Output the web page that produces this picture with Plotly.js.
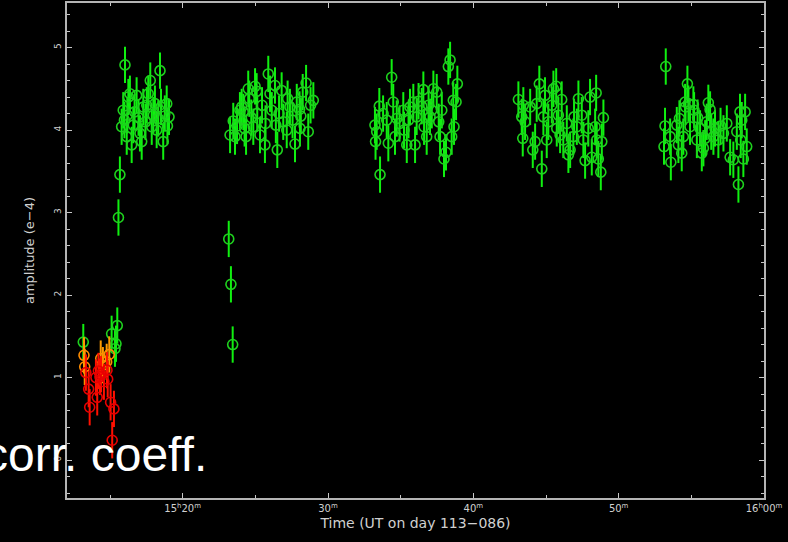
<!DOCTYPE html>
<html>
<head>
<meta charset="utf-8">
<script src="https://cdn.plot.ly/plotly-3.0.1.min.js"></script>
<style>
html,body{margin:0;padding:0;background:#000;}
#chart{width:788px;height:542px;}
</style>
</head>
<body>
<div id="chart"></div>
<script>
// Time in minutes after 15:00 UT; amplitude in units of 1e-4
var redT = [13.34, 13.53, 13.60, 14.03, 14.12, 14.20, 14.31, 14.38, 14.58, 14.79, 14.84, 15.04, 15.15, 15.27];
var redA = [1.06, 0.86, 0.64, 1.00, 0.76, 1.08, 1.01, 1.04, 0.95, 1.09, 0.98, 0.70, 0.24, 0.62];

var orangeT = [13.21, 13.26, 14.36, 14.51, 14.77, 14.95];
var orangeA = [1.27, 1.13, 1.23, 1.15, 1.19, 1.28];

var calGreenT = [13.16, 15.11, 15.34, 15.41, 15.50, 15.58, 15.68];
var calGreenA = [1.43, 1.53, 1.35, 1.41, 1.63, 2.94, 3.46];

var scan1T = [15.80, 15.91, 15.99, 16.03, 16.15, 16.19, 16.26, 16.37, 16.49, 16.60, 16.69, 16.83, 16.96, 17.06, 17.18, 17.29, 17.44, 17.53, 17.63, 17.77, 17.87, 17.98, 18.09, 18.21, 18.32, 18.44, 18.51, 18.66, 18.77, 18.90, 18.95, 19.06];
var scan1A = [4.04, 4.24, 4.12, 4.79, 3.92, 4.18, 4.40, 4.44, 3.82, 4.06, 4.22, 4.42, 4.15, 3.96, 3.86, 4.28, 4.10, 4.30, 4.44, 4.60, 4.04, 4.18, 4.32, 4.00, 4.14, 4.72, 4.28, 3.86, 4.20, 4.32, 4.05, 4.16];

var scan2T = [23.17, 23.26, 23.32, 23.44, 23.48, 23.60, 23.74, 23.94, 24.06, 24.17, 24.26, 24.36, 24.51, 24.58, 24.72, 24.86, 24.98, 25.09, 25.13, 25.32, 25.46, 25.66, 25.70, 25.89, 26.01, 26.13, 26.35, 26.41, 26.51, 26.63, 26.81, 26.92, 27.16, 27.22, 27.38, 27.56, 27.73, 27.85, 28.04, 28.07, 28.13, 28.26, 28.49, 28.64, 28.80, 28.99];
var scan2A = [2.68, 3.94, 2.13, 1.40, 4.11, 3.92, 4.05, 4.24, 4.28, 4.22, 4.02, 3.92, 4.50, 4.38, 4.15, 4.04, 4.53, 4.47, 4.20, 3.94, 4.30, 3.82, 4.08, 4.68, 4.44, 4.24, 4.54, 4.06, 3.76, 4.20, 4.48, 4.10, 4.00, 4.38, 4.28, 4.12, 3.83, 4.34, 4.25, 4.02, 4.17, 4.46, 4.57, 3.98, 4.30, 4.36];

var scan3T = [33.23, 33.27, 33.35, 33.53, 33.58, 33.79, 34.04, 34.15, 34.38, 34.49, 34.61, 34.73, 34.92, 35.18, 35.23, 35.42, 35.54, 35.64, 35.87, 35.99, 36.10, 36.23, 36.45, 36.56, 36.61, 36.79, 36.92, 37.02, 37.14, 37.25, 37.48, 37.62, 37.71, 37.83, 37.98, 38.12, 38.28, 38.40, 38.51, 38.62, 38.67, 38.81, 38.90];
var scan3A = [4.06, 3.86, 3.98, 4.29, 3.46, 4.20, 4.12, 3.84, 4.64, 4.34, 3.92, 4.14, 4.08, 4.24, 4.00, 3.82, 4.12, 4.28, 4.34, 3.82, 4.16, 4.35, 4.29, 4.49, 4.04, 3.92, 4.30, 4.16, 4.24, 4.50, 4.46, 4.10, 3.92, 4.24, 3.65, 3.73, 4.77, 4.85, 3.92, 4.36, 4.04, 4.34, 4.56];

var scan4T = [43.10, 43.33, 43.40, 43.44, 43.56, 43.91, 44.09, 44.25, 44.36, 44.54, 44.71, 44.82, 44.93, 45.05, 45.16, 45.40, 45.51, 45.70, 45.74, 45.85, 45.97, 46.08, 46.19, 46.43, 46.54, 46.66, 46.88, 46.93, 47.12, 47.23, 47.46, 47.57, 47.69, 47.91, 48.03, 48.15, 48.38, 48.45, 48.49, 48.60, 48.77, 48.84, 48.95];
var scan4A = [4.37, 4.16, 3.90, 4.30, 4.10, 4.28, 3.76, 3.86, 4.32, 4.56, 3.53, 4.16, 4.42, 3.88, 4.10, 4.30, 4.50, 4.53, 4.02, 4.18, 3.94, 4.37, 3.88, 4.08, 3.70, 3.76, 3.92, 4.16, 4.04, 4.38, 4.18, 3.88, 3.63, 4.02, 4.40, 3.67, 4.04, 4.45, 3.88, 3.65, 3.49, 3.86, 4.15];

var scan5T = [53.12, 53.19, 53.24, 53.54, 53.59, 54.00, 54.11, 54.18, 54.34, 54.45, 54.57, 54.60, 54.73, 54.80, 54.91, 55.14, 55.19, 55.38, 55.43, 55.60, 55.72, 55.83, 55.95, 56.06, 56.17, 56.29, 56.37, 56.52, 56.63, 56.86, 57.01, 57.21, 57.44, 57.67, 57.89, 58.13, 58.24, 58.35, 58.40, 58.47, 58.58, 58.70, 58.81];
var scan5A = [3.80, 4.05, 4.77, 3.92, 3.61, 4.06, 3.82, 4.14, 3.72, 3.92, 4.34, 4.28, 4.56, 4.32, 4.04, 4.31, 4.24, 3.88, 4.15, 4.02, 3.72, 3.78, 3.90, 4.10, 4.33, 4.25, 3.98, 3.92, 4.02, 3.88, 4.05, 3.96, 4.08, 3.67, 3.64, 3.98, 3.34, 4.22, 3.88, 4.12, 3.65, 4.22, 3.80];

var errAmp = 0.22;

var xTickVals = [20, 30, 40, 50, 60];
var xTickText = ['15<sup>h</sup>20<sup>m</sup>', '30<sup>m</sup>', '40<sup>m</sup>', '50<sup>m</sup>', '16<sup>h</sup>00<sup>m</sup>'];
var yTickVals = [0, 1, 2, 3, 4, 5];
var yTickText = ['0', '1', '2', '3', '4', '5'];

var greenT = calGreenT.concat(scan1T, scan2T, scan3T, scan4T, scan5T);
var greenA = calGreenA.concat(scan1A, scan2A, scan3A, scan4A, scan5A);

function pts(t, a, col, barCol) {
  return {
    type: 'scatter', mode: 'markers', x: t, y: a,
    marker: {symbol: 'circle-open', size: 10, color: col, line: {width: 1.6, color: col}},
    error_y: {type: 'constant', value: errAmp, visible: true, color: barCol, thickness: 2, width: 0},
    showlegend: false, hoverinfo: 'skip', cliponaxis: true
  };
}

var data = [
  pts(greenT, greenA, '#1ed21e', '#10f010'),
  pts(orangeT, orangeA, '#ff8c00', '#ff9a00'),
  pts(redT, redA, '#e80000', '#ff1000')
];

var axisFont = {family: 'DejaVu Sans, sans-serif', size: 9, color: '#d0d0d0'};

var layout = {
  width: 788, height: 542,
  paper_bgcolor: '#000', plot_bgcolor: '#000',
  margin: {l: 67, r: 24, t: 3, b: 44, pad: 0},
  xaxis: {
    range: [12.04, 60], showgrid: false, zeroline: false,
    showline: true, linecolor: '#b4b4b4', linewidth: 2, mirror: 'allticks',
    ticks: 'inside', ticklen: 5, tickcolor: '#c8c8c8', tickwidth: 1,
    tickmode: 'array', tickvals: xTickVals, ticktext: xTickText,
    minor: {ticks: 'inside', ticklen: 3, tickcolor: '#c8c8c8', dtick: 5, tick0: 0},
    tickfont: {family: 'DejaVu Sans, sans-serif', size: 10, color: '#d0d0d0'},
    title: {text: 'Time (UT on day 113\u2212086)', font: {family: 'DejaVu Sans, sans-serif', size: 14, color: '#d0d0d0'}, standoff: 5},
    automargin: false
  },
  yaxis: {
    range: [-0.46, 5.54], showgrid: false, zeroline: false,
    showline: true, linecolor: '#b4b4b4', linewidth: 2, mirror: 'allticks',
    ticks: 'inside', ticklen: 5, tickcolor: '#c8c8c8', tickwidth: 1,
    tickmode: 'array', tickvals: yTickVals, ticktext: yTickText, tickangle: -90,
    minor: {ticks: 'inside', ticklen: 3, tickcolor: '#c8c8c8', dtick: 0.2, tick0: 0},
    tickfont: axisFont,
    title: {text: 'amplitude (e\u22124)', font: {family: 'DejaVu Sans, sans-serif', size: 13, color: '#d0d0d0'}, standoff: 16},
    automargin: false
  },
  annotations: [{
    text: 'corr. coeff.', xref: 'paper', yref: 'paper', x: -0.122, y: 0.087,
    xanchor: 'left', yanchor: 'middle', showarrow: false,
    font: {family: 'Liberation Sans, Arial, sans-serif', size: 48, color: '#ffffff'}
  }]
};

Plotly.newPlot('chart', data, layout, {staticPlot: true, displayModeBar: false});
</script>
</body>
</html>
